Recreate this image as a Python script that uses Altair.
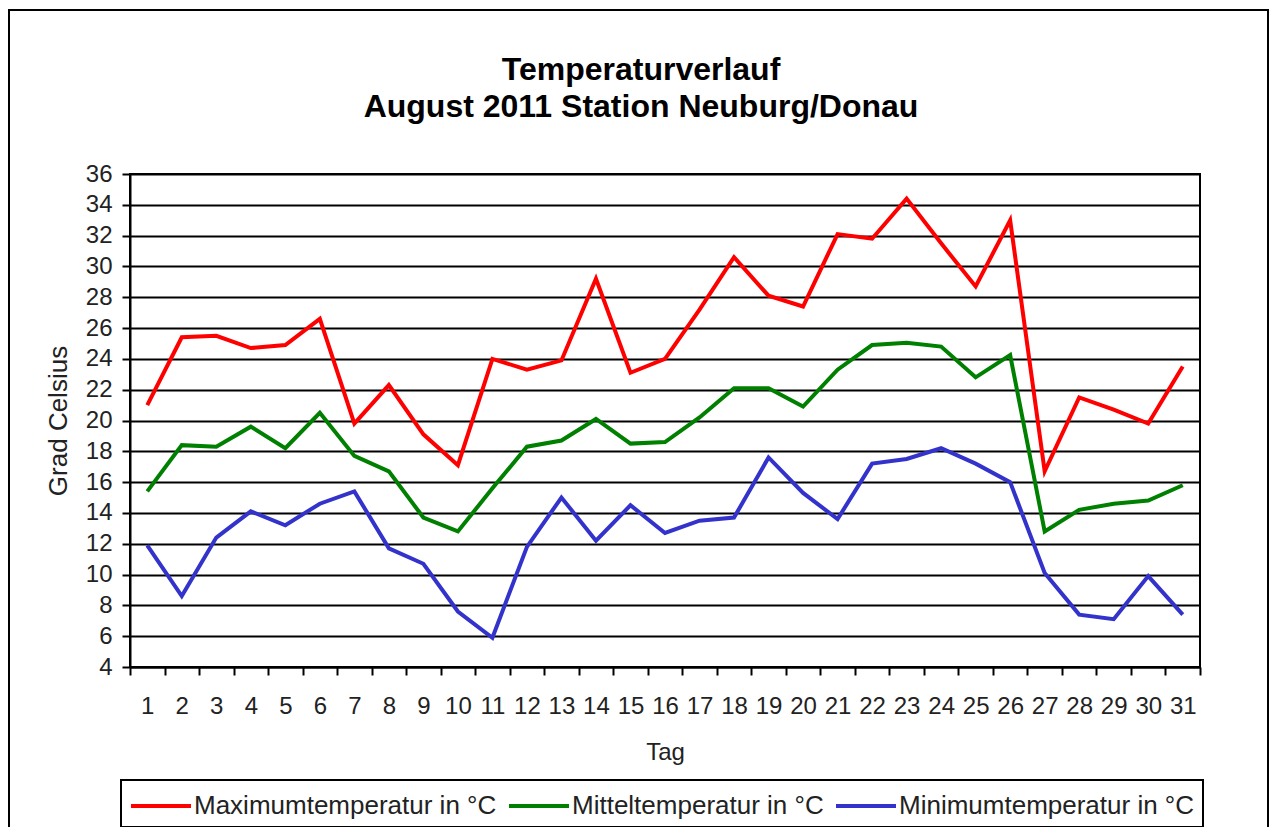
import altair as alt
import pandas as pd

days = list(range(1, 32))
max_temp = [21.0, 25.4, 25.5, 24.7, 24.9, 26.6, 19.8, 22.3, 19.1, 17.1, 24.0, 23.3, 23.9, 29.2, 23.1, 24.0,
            27.2, 30.6, 28.1, 27.4, 32.1, 31.8, 34.4, 31.5, 28.7, 33.0, 16.7, 21.5, 20.7, 19.8, 23.5]
mean_temp = [15.4, 18.4, 18.3, 19.6, 18.2, 20.5, 17.7, 16.7, 13.7, 12.8, 15.6, 18.3, 18.7, 20.1, 18.5, 18.6,
             20.2, 22.1, 22.1, 20.9, 23.3, 24.9, 25.05, 24.8, 22.8, 24.25, 12.8, 14.2, 14.6, 14.8, 15.8]
min_temp = [11.9, 8.6, 12.4, 14.1, 13.2, 14.6, 15.4, 11.7, 10.7, 7.6, 5.9, 11.8, 15.0, 12.2, 14.5, 12.7,
            13.5, 13.7, 17.6, 15.3, 13.6, 17.2, 17.5, 18.2, 17.2, 16.0, 10.1, 7.4, 7.1, 9.9, 7.4]

series_names = ["Maximumtemperatur in °C", "Mitteltemperatur in °C", "Minimumtemperatur in °C"]
series_colors = ["#FF0000", "#008000", "#3333CC"]
y_ticks = list(range(4, 37, 2))
x_bounds = [d - 0.5 for d in days] + [31.5]

rows = []
for name, vals in zip(series_names, [max_temp, mean_temp, min_temp]):
    for d, v in zip(days, vals):
        rows.append({"Tag": d, "Wert": v, "Reihe": name})
df = pd.DataFrame(rows)

FONT = "Liberation Sans"
W, H = 1070, 493
band = W / 31.0

lines = alt.Chart(df).mark_line(strokeWidth=4, clip=False).encode(
    x=alt.X("Tag:Q",
            scale=alt.Scale(domain=[0.5, 31.5], nice=False, zero=False),
            axis=alt.Axis(values=x_bounds, title="Tag", grid=False,
                          labelExpr="datum.value < 31 ? format(datum.value + 0.5, 'd') : ''",
                          labelOffset=band / 2, labelOverlap=False, labelFlush=False,
                          labelFontSize=24, labelFont=FONT, labelColor="#222222",
                          labelPadding=19, tickSize=8, tickWidth=2, tickColor="black",
                          domainColor="black", domainWidth=2,
                          titleFont=FONT, titleFontSize=24, titleFontWeight="normal",
                          titleColor="#222222", titlePadding=22)),
    y=alt.Y("Wert:Q",
            scale=alt.Scale(domain=[4, 36], nice=False, zero=False),
            axis=alt.Axis(values=y_ticks, title="Grad Celsius", grid=True,
                          gridColor="black", gridWidth=2, gridOpacity=1,
                          labelFontSize=24, labelFont=FONT, labelColor="#222222",
                          labelPadding=10, tickSize=8, tickWidth=2, tickColor="black",
                          domainColor="black", domainWidth=2,
                          titleFont=FONT, titleFontSize=26, titleFontWeight="normal",
                          titleColor="#222222", titlePadding=14)),
    color=alt.Color("Reihe:N",
                    scale=alt.Scale(domain=series_names, range=series_colors),
                    sort=series_names,
                    legend=alt.Legend(title=None, orient="none", direction="horizontal",
                                      columns=3, legendX=-9, legendY=606,
                                      symbolType="M-1,0H2.75", symbolSize=1024,
                                      symbolStrokeWidth=4, labelOffset=29,
                                      labelFont=FONT, labelFontSize=26, labelColor="#222222",
                                      labelLimit=0, columnPadding=4, padding=8,
                                      strokeColor="black")),
)

frame = alt.Chart(alt.Data(values=[{"f": 1}])).mark_rect(
    fill=None, stroke="black", strokeWidth=2, clip=False
).encode(x=alt.value(-121), x2=alt.value(1138), y=alt.value(-164), y2=alt.value(700))

chart = alt.layer(frame, lines).properties(
    width=W, height=H,
    title=alt.TitleParams(
        text=["Temperaturverlauf", "August 2011 Station Neuburg/Donau"],
        font=FONT, fontSize=32, fontWeight="bold", color="black",
        lineHeight=37, anchor="middle", dx=-24, offset=-115),
    autosize=alt.AutoSizeParams(type="none"),
    padding={"left": 122, "top": 166, "right": 69, "bottom": 160},
).configure_view(stroke="black", strokeWidth=2).configure_legend(strokeWidth=2)

chart.save("out.html", embed_options={"renderer": "svg", "actions": False})
